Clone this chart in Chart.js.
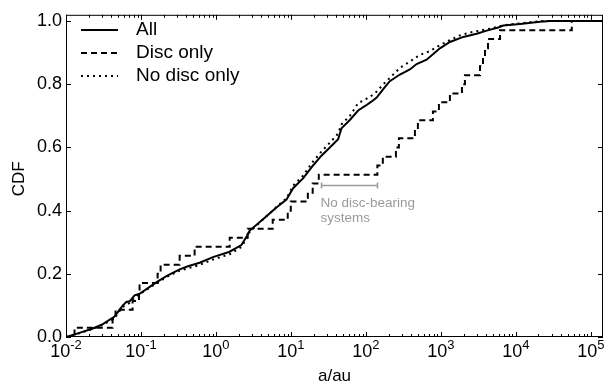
<!DOCTYPE html>
<html>
<head>
<meta charset="utf-8">
<script src="https://cdn.jsdelivr.net/npm/chart.js@4.4.0/dist/chart.umd.min.js"></script>
<style>
  html, body { margin: 0; padding: 0; background: #fff; }
</style>
</head>
<body>
<canvas id="cdf-chart" width="605" height="387"></canvas>
<script>
// --- Values ---
const xDecades = [-2, -1, 0, 1, 2, 3, 4, 5];
const yTickValues = [0, 0.2, 0.4, 0.6, 0.8, 1.0];
const seriesNames = ['All', 'Disc only', 'No disc only'];

// All systems (a in au, cumulative fraction)
const allA = [0.0101, 0.0151, 0.0228, 0.031, 0.0444, 0.0573, 0.0637, 0.0705, 0.0822, 0.0957,
  0.16, 0.218, 0.328, 0.423, 0.606, 0.912, 1.52, 2.18, 2.55, 2.82,
  4.24, 6.4, 8.71, 10.7, 11.8, 14.5, 19.7, 25.5, 33, 42.6,
  47.2, 61, 78.7, 100, 118, 139, 170, 208, 284, 385, 474,
  644, 970, 1318, 1985, 2997, 4074, 5821, 6792, 11350, 20990,
  28510, 145000];
const allCdf = [0, 0.013, 0.027, 0.041, 0.065, 0.1, 0.111, 0.113, 0.132, 0.137,
  0.173, 0.193, 0.214, 0.224, 0.235, 0.253, 0.27, 0.291, 0.317, 0.337,
  0.373, 0.41, 0.435, 0.471, 0.481, 0.502, 0.543, 0.574, 0.6, 0.626,
  0.661, 0.687, 0.717, 0.733, 0.745, 0.758, 0.785, 0.81, 0.831, 0.847, 0.864,
  0.878, 0.914, 0.934, 0.95, 0.96, 0.97, 0.98, 0.986, 0.991, 0.998,
  1.0, 1.0];

// Disc-bearing systems only (step CDF)
const discA = [0.01, 0.013, 0.0418, 0.0458, 0.0773, 0.094, 0.0957, 0.1666, 0.1827, 0.3276,
  0.519, 1.524, 2.65, 5.71, 9.06, 9.94, 16.8, 19.5, 23.5, 142,
  168, 251, 275, 450, 493, 782, 940, 1318, 1906, 2090,
  3317, 3638, 3871, 4244, 6136, 55600, 145000];
const discCdf = [0, 0.029, 0.057, 0.086, 0.114, 0.143, 0.171, 0.2, 0.229, 0.257,
  0.286, 0.314, 0.343, 0.371, 0.4, 0.429, 0.457, 0.486, 0.514, 0.543,
  0.571, 0.6, 0.629, 0.657, 0.686, 0.714, 0.743, 0.771, 0.8, 0.829,
  0.857, 0.886, 0.914, 0.943, 0.971, 1.0, 1.0];

// Systems without a disc
const noDiscA = [0.0101, 0.0151, 0.0226, 0.0307, 0.0444, 0.0568, 0.0705, 0.0847, 0.161, 0.22,
  0.328, 0.606, 0.904, 1.52, 2.19, 2.56, 2.82, 4.22, 6.45, 8.8,
  10.6, 14.4, 19.6, 25.8, 33, 42.2, 47.7, 61, 78.4, 113,
  141, 170, 208, 284, 385, 524, 713, 970, 1318, 1793,
  2440, 3317, 4510, 6780, 11350, 20990, 145000];
const noDiscCdf = [0, 0.012, 0.025, 0.038, 0.06, 0.095, 0.108, 0.128, 0.17, 0.19,
  0.21, 0.228, 0.245, 0.262, 0.285, 0.312, 0.333, 0.372, 0.412, 0.44,
  0.478, 0.51, 0.555, 0.588, 0.615, 0.643, 0.675, 0.7, 0.74, 0.76,
  0.778, 0.8, 0.82, 0.852, 0.872, 0.893, 0.905, 0.924, 0.94, 0.955,
  0.964, 0.97, 0.976, 0.987, 0.993, 1.0, 1.0];

// "No disc-bearing systems" bracket
const gapStart = 25.5;
const gapEnd = 140;
const gapLevel = 0.48;
const gapText = ['No disc-bearing', 'systems'];

const FONT = '"Liberation Sans", Arial, Helvetica, sans-serif';
const GREY = '#9a9a9a';

function toPoints(xs, ys) {
  return xs.map((v, i) => ({ x: v, y: ys[i] }));
}

// frame, inward ticks on all four sides, x labels with exponents, titles, legend, bracket
const decorations = {
  id: 'decorations',
  afterDatasetsDraw(chart) {
    const { ctx, chartArea: a, scales: { x, y } } = chart;
    ctx.save();
    ctx.strokeStyle = '#000';
    ctx.lineWidth = 1;
    ctx.strokeRect(a.left + 0.5, a.top + 0.5, a.right - a.left - 1, a.bottom - a.top - 1);

    ctx.beginPath();
    xDecades.forEach(d => {
      for (let m = 1; m <= 9; m++) {
        const v = m * Math.pow(10, d);
        if (v < x.min || v > x.max) continue;
        const px = Math.round(x.getPixelForValue(v)) + 0.5;
        const len = m === 1 ? 5 : 3;
        ctx.moveTo(px, a.bottom); ctx.lineTo(px, a.bottom - len);
        ctx.moveTo(px, a.top); ctx.lineTo(px, a.top + len);
      }
    });
    yTickValues.forEach(v => {
      const py = Math.round(y.getPixelForValue(v)) + 0.5;
      ctx.moveTo(a.left, py); ctx.lineTo(a.left + 5, py);
      ctx.moveTo(a.right, py); ctx.lineTo(a.right - 5, py);
    });
    ctx.stroke();

    // x tick labels as 10^n
    ctx.fillStyle = '#000';
    ctx.textBaseline = 'alphabetic';
    ctx.textAlign = 'left';
    xDecades.forEach(d => {
      const px = x.getPixelForValue(Math.pow(10, d));
      const exp = d < 0 ? '-' + (-d) : String(d);
      ctx.font = '18px ' + FONT;
      const wBase = ctx.measureText('10').width;
      ctx.font = '13px ' + FONT;
      const wExp = ctx.measureText(exp).width;
      const x0 = px - (wBase + wExp) / 2;
      ctx.font = '18px ' + FONT;
      ctx.fillText('10', x0, 357);
      ctx.font = '13px ' + FONT;
      ctx.fillText(exp, x0 + wBase, 349);
    });

    // axis titles
    ctx.font = '17px ' + FONT;
    ctx.textAlign = 'center';
    ctx.fillText('a/au', (a.left + a.right) / 2, 381);
    ctx.save();
    ctx.translate(19, (a.top + a.bottom) / 2 + 3);
    ctx.rotate(-Math.PI / 2);
    ctx.textBaseline = 'middle';
    ctx.fillText('CDF', 0, 0);
    ctx.restore();

    // legend
    chart.data.datasets.forEach((ds, i) => {
      const ly = 30 + i * 23;
      ctx.save();
      ctx.strokeStyle = ds.borderColor;
      ctx.lineWidth = ds.borderWidth;
      ctx.setLineDash(ds.borderDash || []);
      ctx.beginPath();
      ctx.moveTo(81, ly);
      ctx.lineTo(118, ly);
      ctx.stroke();
      ctx.restore();
      ctx.font = '19px ' + FONT;
      ctx.textAlign = 'left';
      ctx.textBaseline = 'middle';
      ctx.fillText(ds.label, 136, ly);
    });

    // bracket annotation
    const gx0 = Math.round(x.getPixelForValue(gapStart)) + 0.5;
    const gx1 = Math.round(x.getPixelForValue(gapEnd)) + 0.5;
    const gy = Math.round(y.getPixelForValue(gapLevel)) + 0.5;
    ctx.strokeStyle = GREY;
    ctx.lineWidth = 1.5;
    ctx.setLineDash([]);
    ctx.beginPath();
    ctx.moveTo(gx0, gy); ctx.lineTo(gx1, gy);
    ctx.moveTo(gx0, gy - 3); ctx.lineTo(gx0, gy + 3);
    ctx.moveTo(gx1, gy - 3); ctx.lineTo(gx1, gy + 3);
    ctx.stroke();
    ctx.fillStyle = GREY;
    ctx.font = '13.5px ' + FONT;
    ctx.textAlign = 'left';
    ctx.textBaseline = 'alphabetic';
    gapText.forEach((t, i) => ctx.fillText(t, gx0 - 1, gy + 21 + i * 15));
    ctx.restore();
  }
};

new Chart(document.getElementById('cdf-chart'), {
  type: 'line',
  data: {
    datasets: [
      {
        label: seriesNames[0],
        data: toPoints(allA, allCdf),
        borderColor: '#000',
        borderWidth: 2,
        pointRadius: 0,
        tension: 0
      },
      {
        label: seriesNames[1],
        data: toPoints(discA, discCdf),
        borderColor: '#000',
        borderWidth: 2,
        borderDash: [6, 4],
        pointRadius: 0,
        stepped: true
      },
      {
        label: seriesNames[2],
        data: toPoints(noDiscA, noDiscCdf),
        borderColor: '#000',
        borderWidth: 2,
        borderDash: [2, 4],
        pointRadius: 0,
        tension: 0
      }
    ]
  },
  options: {
    responsive: false,
    animation: false,
    layout: { padding: { left: 0, top: 6, right: 2, bottom: 0 } },
    scales: {
      x: {
        type: 'logarithmic',
        min: 0.01,
        max: 145000,
        afterFit(s) { s.height = 50; },
        grid: { display: false },
        border: { display: false },
        ticks: { display: false }
      },
      y: {
        min: 0,
        max: 1.02,
        afterFit(s) { s.width = 66; },
        grid: { display: false, drawTicks: false },
        border: { display: false },
        ticks: {
          stepSize: 0.2,
          includeBounds: false,
          padding: 4,
          color: '#000',
          font: { family: FONT, size: 18 },
          callback: v => v.toFixed(1)
        }
      }
    },
    plugins: {
      legend: { display: false },
      tooltip: { enabled: false }
    }
  },
  plugins: [decorations]
});
</script>
</body>
</html>
